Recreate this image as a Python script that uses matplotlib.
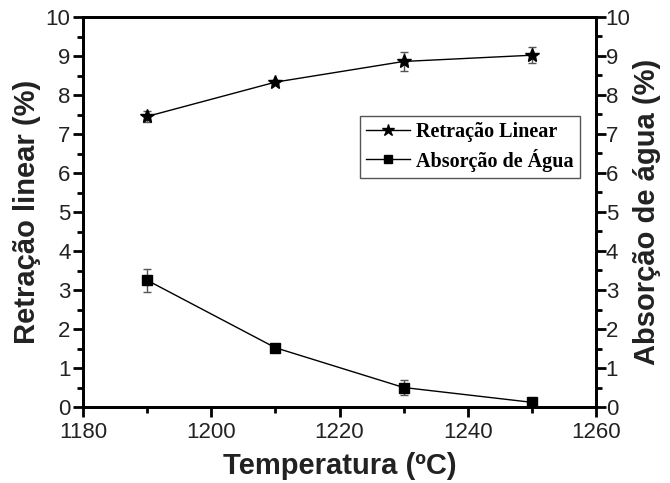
import matplotlib
matplotlib.use("Agg")
import matplotlib.pyplot as plt
from matplotlib.ticker import MultipleLocator
from matplotlib.lines import Line2D

temps = [1190, 1210, 1230, 1250]
retracao = [7.45, 8.33, 8.86, 9.02]
retracao_err = [0.15, 0.06, 0.25, 0.2]
absorcao = [3.25, 1.52, 0.5, 0.12]
absorcao_err = [0.3, 0.05, 0.2, 0.05]

plt.rcParams['font.family'] = ['Liberation Sans', 'DejaVu Sans']

fig = plt.figure(figsize=(6.7, 4.83), dpi=100)
ax = fig.add_axes([83/670, 1-407/483, 513/670, 390/483])

ax.errorbar(temps, retracao, yerr=retracao_err, color='black', marker='*', markersize=10,
            lw=1, ecolor='#555555', elinewidth=1, capsize=3)
ax.errorbar(temps, absorcao, yerr=absorcao_err, color='black', marker='s', markersize=7,
            lw=1, ecolor='#555555', elinewidth=1, capsize=3)

ax.set_xlim(1180, 1260)
ax.set_ylim(0, 10)
ax.xaxis.set_major_locator(MultipleLocator(20))
ax.xaxis.set_minor_locator(MultipleLocator(10))
ax.yaxis.set_major_locator(MultipleLocator(1))
ax.yaxis.set_minor_locator(MultipleLocator(0.5))
for s in ax.spines.values():
    s.set_linewidth(2)
ax.tick_params(which='both', direction='out', width=2, labelsize=16, colors='black',
               labelcolor='#222222')
ax.tick_params(which='major', length=7)
ax.tick_params(which='minor', length=4)
ax.tick_params(axis='x', pad=4)
ax.tick_params(axis='y', which='both', right=False, pad=2)
ax.set_xlabel('Temperatura (ºC)', fontsize=21, fontweight='bold', color='#222222', labelpad=6)
ax.set_ylabel('Retração linear (%)', fontsize=21, fontweight='bold', color='#222222', labelpad=3)

ax2 = ax.twinx()
ax2.set_ylim(0, 10)
ax2.yaxis.set_major_locator(MultipleLocator(1))
ax2.yaxis.set_minor_locator(MultipleLocator(0.5))
ax2.tick_params(which='both', direction='out', width=2, labelsize=16, labelcolor='#222222', pad=0)
ax2.tick_params(which='major', length=7)
ax2.tick_params(which='minor', length=4)
for s in ax2.spines.values():
    s.set_linewidth(2)
ax2.set_ylabel('Absorção de água (%)', fontsize=21, fontweight='bold', color='#222222', labelpad=2)

h1 = Line2D([], [], color='black', lw=1, marker='*', markersize=9)
h2 = Line2D([], [], color='black', lw=1, marker='s', markersize=6)
leg = ax.legend([h1, h2], ['Retração Linear', 'Absorção de Água'],
                loc='upper left', bbox_to_anchor=(0.54, 0.745), frameon=True, fancybox=False,
                edgecolor='#555555', framealpha=1, borderpad=0.3, handlelength=2.2, handletextpad=0.3,
                labelspacing=0.3, borderaxespad=0,
                prop={'family': 'Liberation Serif', 'weight': 'bold', 'size': 14.5})
leg.get_frame().set_linewidth(1)

fig.savefig('out.png', dpi=100)
